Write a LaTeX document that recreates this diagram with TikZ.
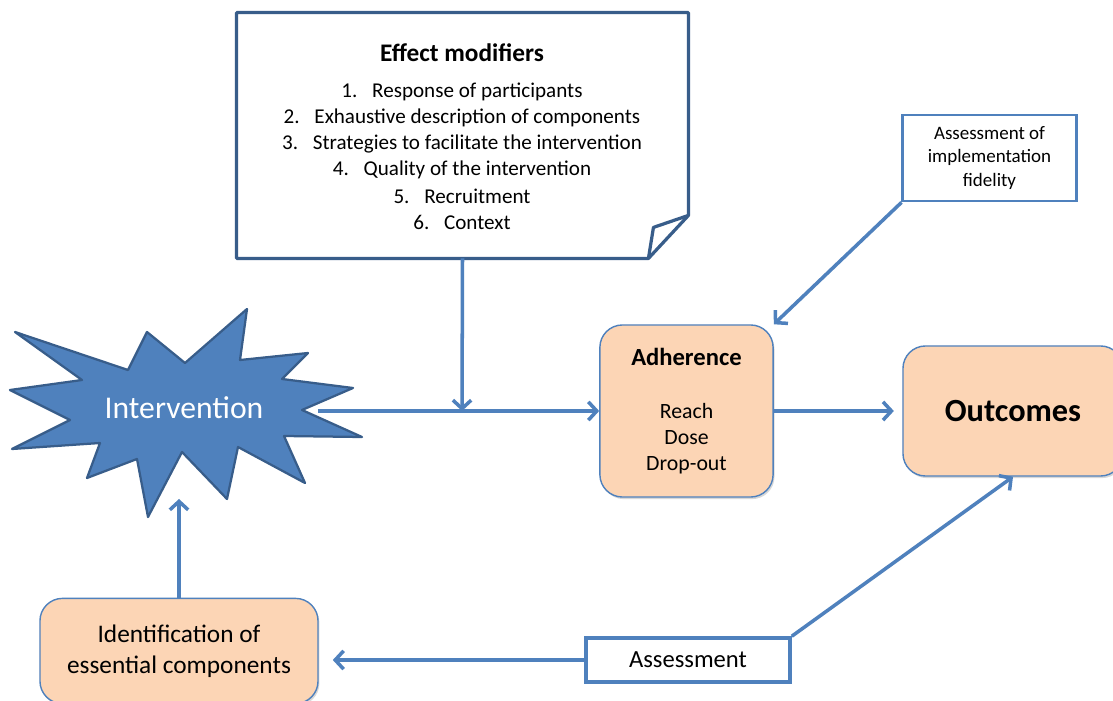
\documentclass[tikz,border=0pt]{standalone}
\usepackage{fontspec}
\setmainfont{Carlito}
\usetikzlibrary{arrows.meta, shadows, calc}
\definecolor{linkblue}{RGB}{79, 129, 189}
\definecolor{noteblue}{RGB}{56, 93, 138}
\definecolor{peach}{RGB}{252, 213, 181}

\begin{document}
\begin{tikzpicture}[x=0.025cm, y=-0.025cm,
    arr/.style={draw=linkblue, line width=2.5pt, -{Straight Barb[length=6pt, width=13pt]}},
    peachbox/.style={rectangle, rounded corners=16pt, draw=linkblue, line width=1pt, fill=peach,
        drop shadow={shadow xshift=1pt, shadow yshift=-1.5pt, opacity=0.3}, align=center, inner sep=0pt},
    whitebox/.style={rectangle, draw=linkblue, fill=white, align=center, inner sep=0pt}]
        \useasboundingbox (0,0) rectangle (1113,701);
        \fill[white] (0,0) rectangle (1113,701);

        % Effect modifiers note
        \node[minimum width=11.28cm, minimum height=6.13cm] (effect) at (462.5,135.5) {};
        \draw[noteblue, line width=2.3pt, fill=white, line join=round] (effect.north west) -- (effect.north east)
            -- ($(effect.south east)+(0,-43)$) -- ($(effect.south east)+(-40,0)$) -- (effect.south west) -- cycle;
        \draw[noteblue, line width=2.3pt, line join=round] ($(effect.south east)+(0,-43)$)
            -- ($(effect.south east)+(-35,-31)$) -- ($(effect.south east)+(-40,0)$);
        \node[font=\fontsize{18}{22}\selectfont\bfseries] (efftitle) at (462,53) {Effect modifiers};
        \foreach \num/\txt in {1/Response of participants, 2/Exhaustive description of components,
                3/Strategies to facilitate the intervention, 4/Quality of the intervention,
                5/Recruitment, 6/Context} {
        \node[font=\fontsize{15}{18}\selectfont] (item\num) at (462,66+26*\num) {\num.\hspace{0.7em}\txt};
        }

        % Intervention star
        \draw[fill=linkblue, draw=noteblue, line width=1.6pt, line join=round]
            (15,332) -- (128,370) -- (147,332) -- (185,363) -- (247,309) -- (240,360) -- (308,353)
            -- (282,379) -- (353,388) -- (302,410) -- (362,437) -- (284,436) -- (305,483) -- (238,447)
            -- (227,499) -- (182,452) -- (148,517) -- (137,459) -- (87,478) -- (100,443) -- (12,449)
            -- (70,420) -- (10,390) -- (82,380) -- cycle;
        \node[text=white, font=\fontsize{22.5}{27}\selectfont] (interv) at (184,408) {Intervention};
        \coordinate (starE) at (318,411);
        \coordinate (starS) at (179,499);
        \coordinate (join) at (462,411);

        % Boxes
        \node[peachbox, minimum width=4.33cm, minimum height=4.3cm, font=\fontsize{15.5}{18.4}\selectfont]
            (adher) at (686.5,411) {{\fontsize{17.5}{18.4}\selectfont\bfseries Adherence}\\[19pt]Reach\\Dose\\Drop-out};
        \node[peachbox, minimum width=5.5cm, minimum height=3.25cm, font=\fontsize{23}{28}\selectfont\bfseries]
            (outc) at (1013,411) {Outcomes};
        \node[peachbox, minimum width=6.95cm, minimum height=2.63cm, font=\fontsize{18}{22}\selectfont]
            (ident) at (179,651) {Identification of\\essential components};
        \node[whitebox, line width=2pt, minimum width=4.33cm, minimum height=2.15cm, font=\fontsize{13.5}{17}\selectfont]
            (fid) at (989.5,158) {Assessment of\\implementation\\fidelity};
        \node[whitebox, line width=2.5pt, minimum width=5.1cm, minimum height=1.1cm, font=\fontsize{17.5}{21}\selectfont]
            (assess) at (688,660) {Assessment};

        % Connectors
        \draw[arr] (effect.south) -- (join);
        \draw[arr] (starE) -- (adher.west);
        \draw[arr, shorten >=6pt] (adher.east) -- (outc.west);
        \draw[arr] (fid.south west) -- (adher.north east);
        \draw[arr] (assess.north east) -- (outc.south);
        \draw[arr, shorten >=10pt] (assess.west) -- (assess.west -| ident.east);
        \draw[arr] (ident.north) -- (starS);
    \end{tikzpicture}
\end{document}
